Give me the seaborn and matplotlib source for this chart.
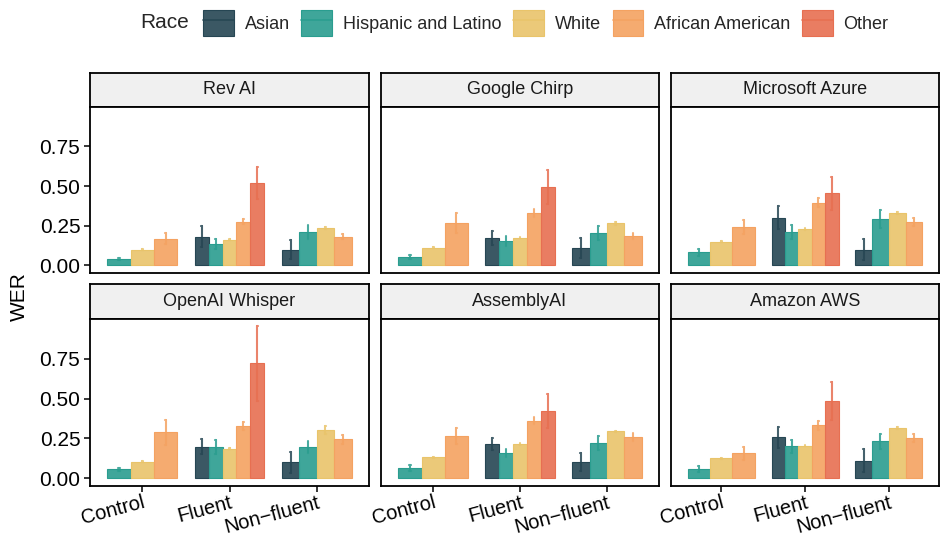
import numpy as np
import pandas as pd
import matplotlib
matplotlib.use("Agg")
import matplotlib.pyplot as plt
from matplotlib.patches import Patch
from matplotlib.lines import Line2D
from matplotlib.colors import to_rgb
import seaborn as sns

sns.set_style("white")
plt.rcParams['font.family'] = ['Liberation Sans', 'DejaVu Sans']

conditions = ["Control", "Fluent", "Non\u2212fluent"]
races = ["Asian", "Hispanic and Latino", "White", "African American", "Other"]
race_colors = ["#264653", "#2a9d8f", "#e9c46a", "#f4a261", "#e76f51"]
models = ["Rev AI", "Google Chirp", "Microsoft Azure",
          "OpenAI Whisper", "AssemblyAI", "Amazon AWS"]

N = None
# rows: Control, Fluent, Non-fluent ; columns: races
rev_ai_wer = [[N, .042, .100, .169, N], [.182, .135, .163, .275, .517], [.100, .208, .238, .181, N]]
rev_ai_err = [[N, .008, .003, .033, N], [.064, .032, .005, .015, .100], [.060, .044, .006, .017, N]]
google_wer = [[N, .054, .113, .267, N], [.172, .154, .175, .329, .496], [.112, .204, .265, .187, N]]
google_err = [[N, .012, .004, .064, N], [.042, .031, .005, .026, .106], [.063, .042, .008, .019, N]]
azure_wer = [[N, .083, .150, .242, N], [.300, .210, .229, .394, .454], [.100, .294, .329, .275, N]]
azure_err = [[N, .021, .004, .043, N], [.072, .045, .006, .028, .102], [.065, .056, .006, .026, N]]
whisper_wer = [[N, .056, .104, .288, N], [.198, .198, .185, .329, .721], [.100, .194, .300, .244, N]]
whisper_err = [[N, .010, .004, .079, N], [.047, .044, .004, .024, .235], [.064, .037, .025, .026, N]]
assembly_wer = [[N, .067, .133, .267, N], [.214, .160, .215, .362, .423], [.100, .223, .294, .260, N]]
assembly_err = [[N, .018, .004, .051, N], [.036, .025, .004, .024, .106], [.056, .043, .005, .026, N]]
aws_wer = [[N, .058, .125, .156, N], [.256, .202, .204, .333, .487], [.110, .231, .315, .254, N]]
aws_err = [[N, .017, .004, .039, N], [.066, .040, .004, .027, .119], [.073, .049, .006, .026, N]]

model_wer = [rev_ai_wer, google_wer, azure_wer, whisper_wer, assembly_wer, aws_wer]
model_err = [rev_ai_err, google_err, azure_err, whisper_err, assembly_err, aws_err]

rows = []
for model, wer, err in zip(models, model_wer, model_err):
    for ci, cond in enumerate(conditions):
        for ri, race in enumerate(races):
            m = wer[ci][ri]
            if m is None:
                continue
            e = err[ci][ri]
            for v in (m - e, m, m + e):
                rows.append({"model": model, "condition": cond, "race": race, "wer": v})
df = pd.DataFrame(rows)
palette = dict(zip(races, race_colors))

W, H = 940, 538
fig = plt.figure(figsize=(W / 100, H / 100), dpi=100)


def frac(x0, y0, x1, y1):
    return [x0 / W, 1 - y1 / H, (x1 - x0) / W, (y1 - y0) / H]


cols = [(90, 369), (381, 659), (671, 939)]
rows_px = [((73, 107), (107, 273)), ((284, 319), (319, 486))]

for idx, model in enumerate(models):
    r, c = divmod(idx, 3)
    (sx0, sx1) = cols[c]
    (st, sb), (pt, pb) = rows_px[r]
    # strip
    sax = fig.add_axes(frac(sx0, st, sx1, sb))
    sax.set_facecolor("#F0F0F0")
    sax.set_xticks([]); sax.set_yticks([])
    for s in sax.spines.values():
        s.set_color("black"); s.set_linewidth(1.3)
    sax.text(0.5, 0.5, model, ha="center", va="center", fontsize=13,
             color="#1a1a1a", transform=sax.transAxes)
    # panel
    ax = fig.add_axes(frac(sx0, pt, sx1, pb))
    sub_m = df[df.model == model]
    for cond in conditions:
        sub = sub_m[sub_m.condition == cond]
        present = [rc for rc in races if rc in set(sub.race)]
        sns.barplot(data=sub, x="condition", y="wer", hue="race", order=conditions,
                    hue_order=present, palette=palette, estimator="median",
                    errorbar=lambda v: (v.min(), v.max()), capsize=0.04,
                    err_kws={"linewidth": 1.5}, width=0.8, saturation=1,
                    legend=False, ax=ax)
    centers = []
    for p in ax.patches:
        rgb = to_rgb(p.get_facecolor())
        p.set_facecolor((*rgb, 0.9))
        p.set_edgecolor((*rgb, 1.0))
        p.set_linewidth(0.8)
        centers.append((p.get_x() + p.get_width() / 2, rgb))
    for ln in ax.lines:
        xm = np.nanmean(np.asarray(ln.get_xdata(), dtype=float))
        rgb = min(centers, key=lambda t: abs(t[0] - xm))[1]
        ln.set_color(rgb)
        ln.set_alpha(0.85)
    ax.set_xlim(-0.6, 2.6)
    ax.set_ylim(-0.0475, 0.9975)
    ax.set_xlabel(""); ax.set_ylabel("")
    ax.set_yticks([0, 0.25, 0.5, 0.75])
    ax.set_xticks(range(3))
    for s in ax.spines.values():
        s.set_color("black"); s.set_linewidth(1.3)
    ax.tick_params(axis="both", direction="out", length=4, width=1.1,
                   color="black", labelsize=15, labelcolor="black", pad=3,
                   left=True, bottom=True)
    if c == 0:
        ax.set_yticklabels(["0.00", "0.25", "0.50", "0.75"])
    else:
        ax.tick_params(axis="y", left=False, labelleft=False)
    if r == 1:
        ax.set_xticklabels(conditions, rotation=15, ha="right",
                           rotation_mode="anchor", fontsize=14.5)
        ax.tick_params(axis="x", pad=1)
    else:
        ax.tick_params(axis="x", bottom=False, labelbottom=False)

fig.text(19.5 / W, 1 - 296.5 / H, "WER", rotation=90, ha="center", va="center",
         fontsize=15, color="black")

handles = []
for col in race_colors:
    rgb = to_rgb(col)
    handles.append((Patch(facecolor=(*rgb, 0.9), edgecolor=(*rgb, 1.0), linewidth=0.8),
                    Line2D([], [], color=rgb, lw=1.3, alpha=0.85)))
fig.text(140 / W, 1 - 23 / H, "Race", ha="left", va="center", fontsize=15)
fig.legend(handles, races, loc="center left", bbox_to_anchor=(203 / W, 1 - 23 / H),
           ncol=5, frameon=False, fontsize=13, handlelength=1.7, handleheight=1.8,
           handletextpad=0.6, columnspacing=0.65, borderpad=0, borderaxespad=0)

fig.savefig("out.png", dpi=100)
